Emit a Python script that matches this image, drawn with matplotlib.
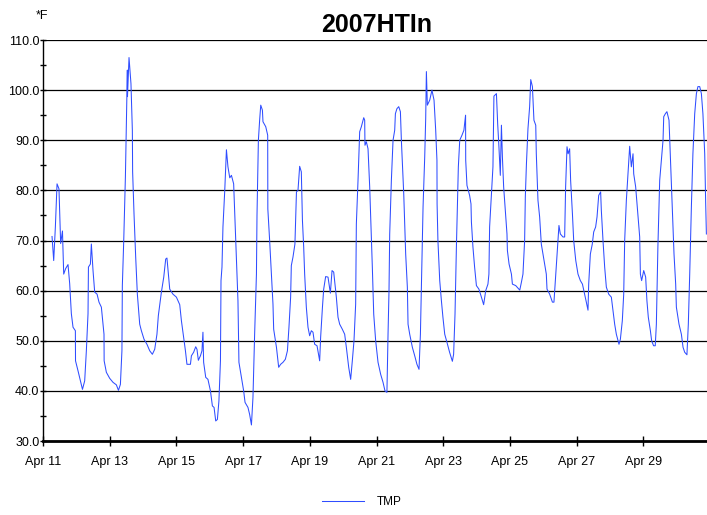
import matplotlib
matplotlib.use("Agg")
import matplotlib.pyplot as plt
import matplotlib.dates as mdates
from matplotlib.ticker import MultipleLocator, FormatStrFormatter
import pandas as pd

plt.rcParams['font.family'] = ['Liberation Sans', 'DejaVu Sans']

# hours since Apr 11 2007 00:00
hours = [6.5, 7.7, 8.9, 10.1, 11.5, 12.7, 14.0, 14.9, 16.3, 18.0, 19.2, 20.4, 21.6, 23.3, 23.4,
         25.2, 26.9, 28.4, 30.0, 31.2, 32.4, 32.7, 34.1, 34.8, 36.0, 37.2, 38.9, 40.3, 42.0, 43.9,
         44.0, 45.6, 48.0, 50.4, 52.8, 54.3, 55.7, 56.8, 57.1, 58.1, 59.3, 60.0, 60.7, 60.8, 61.9,
         63.3, 64.3, 64.5, 65.5, 66.7, 67.9, 69.6, 70.8, 72.7, 74.8, 76.8, 78.7, 80.4, 82.0, 83.0,
         85.2, 86.9, 88.3, 89.2, 90.2, 91.2, 93.5, 96.0, 98.4, 99.6, 101.2, 102.5, 103.6, 106.1, 106.8,
         108.4, 109.9, 110.8, 111.8, 113.3, 114.4, 115.1, 115.6, 117.1, 118.7, 120.5, 121.9, 123.1, 124.3, 125.5,
         126.6, 127.7, 128.1, 128.8, 129.5, 130.8, 132.0, 133.1, 134.4, 135.6, 137.2, 138.0, 139.2, 140.3, 141.0,
         142.8, 144.4, 145.4, 147.5, 148.7, 150.0, 151.1, 152.3, 153.6, 154.0, 155.0, 155.9, 156.7, 157.9, 158.3,
         160.3, 161.7, 161.8, 163.1, 164.4, 165.5, 166.0, 168.0, 169.6, 171.0, 172.7, 174.4, 175.9, 177.0, 178.2,
         178.7, 179.9, 181.3, 182.4, 183.5, 184.7, 185.9, 186.7, 187.6, 188.3, 189.5, 190.7, 191.9, 193.1, 194.3,
         195.5, 197.2, 199.1, 199.8, 201.1, 202.0, 203.4, 205.1, 206.8, 208.0, 209.2, 211.1, 212.3, 213.5, 215.4,
         217.1, 218.3, 220.0, 221.4, 222.6, 223.8, 225.0, 225.5, 226.7, 227.9, 229.1, 230.8, 231.5, 231.7, 232.7,
         233.9, 235.1, 236.3, 237.0, 238.0, 239.4, 241.1, 243.0, 244.7, 246.1, 247.5, 248.3, 249.0, 249.5, 250.7,
         251.9, 253.1, 253.6, 254.7, 256.0, 257.2, 257.9, 259.6, 261.0, 262.2, 262.7, 263.9, 265.8, 267.5, 269.1,
         270.6, 271.6, 272.5, 273.5, 274.7, 275.4, 275.9, 276.6, 278.3, 279.9, 281.4, 282.6, 283.5, 283.6, 284.2,
         285.5, 286.7, 287.8, 289.1, 290.7, 292.6, 294.6, 295.5, 296.5, 297.5, 298.2, 298.9, 299.9, 301.5, 302.9,
         304.1, 304.2, 305.1, 307.0, 308.0, 308.3, 309.4, 310.6, 311.9, 313.7, 315.5, 317.1, 318.6, 320.2, 320.9,
         321.4, 322.7, 323.8, 324.5, 326.3, 327.2, 328.1, 329.1, 329.9, 330.6, 331.5, 332.9, 333.9, 334.2, 335.4,
         337.1, 337.8, 340.2, 341.8, 343.1, 344.3, 345.4, 346.6, 347.1, 347.9, 349.0, 350.2, 351.0, 352.2, 353.3,
         354.6, 355.0, 356.2, 357.4, 358.6, 359.8, 361.0, 362.2, 362.7, 364.6, 365.8, 366.6, 367.7, 368.7, 369.9,
         371.3, 372.3, 374.2, 375.4, 376.1, 377.1, 377.9, 379.0, 379.7, 381.0, 381.9, 383.4, 385.0, 386.7, 388.2,
         389.8, 391.0, 392.2, 392.7, 393.9, 395.3, 396.3, 397.7, 398.7, 399.9, 401.3, 401.8, 403.0, 404.2, 405.4,
         407.1, 409.0, 410.2, 411.4, 412.6, 413.8, 414.5, 415.5, 416.9, 417.9, 418.6, 419.8, 421.0, 422.2, 423.4,
         424.6, 425.1, 426.5, 428.2, 429.4, 429.9, 430.8, 432.3, 433.7, 434.6, 435.6, 437.1, 438.0, 439.4, 440.6,
         441.4, 442.5, 443.8, 445.0, 446.2, 446.7, 447.9, 449.0, 450.5, 451.5, 452.9, 454.1, 455.3, 455.8, 457.7,
         459.4, 460.6, 461.8, 463.4, 464.4, 465.4, 466.6, 467.7, 469.0, 470.2, 471.3, 472.6, 473.8, 474.9, 476.2,
         476.9, 477.4]

tmp = [70.8, 66.0, 72.7, 81.3, 80.3, 69.4, 71.9, 63.3, 64.4, 65.2, 61.4, 55.4, 52.7, 52.0, 46.0,
       44.0, 42.0, 40.3, 42.0, 48.0, 55.4, 64.7, 65.3, 69.3, 64.0, 59.7, 59.3, 57.7, 56.7, 51.3,
       46.0, 43.7, 42.5, 41.7, 41.2, 40.1, 41.3, 48.0, 61.0, 70.0, 82.7, 93.3, 104.0, 98.7, 106.5,
       101.3, 92.0, 83.7, 75.3, 66.7, 59.3, 53.3, 52.0, 50.3, 49.3, 48.0, 47.3, 48.3, 51.3, 55.0,
       59.7, 62.7, 66.3, 66.5, 63.3, 60.3, 59.3, 58.7, 57.2, 54.0, 50.7, 48.0, 45.3, 45.3, 47.0,
       47.7, 48.8, 48.3, 46.1, 47.0, 48.0, 51.7, 45.7, 42.7, 42.3, 40.0, 37.0, 36.7, 34.0, 34.3,
       38.0, 46.0, 62.0, 64.7, 72.7, 80.0, 88.1, 84.7, 82.5, 83.0, 81.3, 75.3, 66.7, 58.0, 45.7,
       42.7, 40.0, 37.7, 36.7, 35.3, 33.2, 38.7, 51.3, 63.3, 75.0, 90.0, 94.0, 97.0, 96.0, 93.7,
       92.7, 91.0, 76.3, 70.0, 63.3, 57.3, 52.3, 48.7, 44.7, 45.3, 45.7, 46.3, 48.0, 52.7, 58.7,
       65.0, 66.7, 69.3, 79.7, 80.0, 84.8, 83.7, 74.0, 68.7, 63.3, 56.7, 52.7, 51.0, 52.0, 51.7,
       49.3, 49.0, 46.0, 50.7, 56.7, 60.3, 62.8, 62.7, 59.5, 64.0, 63.7, 58.7, 54.7, 53.3, 52.3,
       51.3, 48.7, 44.7, 42.3, 46.0, 50.0, 57.3, 73.3, 82.0, 91.7, 92.7, 94.5, 94.0, 89.0, 89.7,
       88.3, 80.7, 70.7, 64.7, 55.3, 50.0, 45.7, 43.3, 41.7, 40.0, 39.7, 51.3, 60.0, 71.3, 82.0,
       90.0, 92.0, 95.3, 96.3, 96.7, 95.7, 90.0, 79.3, 67.3, 60.7, 53.3, 51.3, 48.7, 47.0, 45.3,
       44.3, 51.3, 63.3, 76.7, 86.7, 94.3, 103.7, 97.0, 98.0, 100.0, 98.0, 92.0, 86.0, 77.3, 70.0,
       62.0, 58.0, 54.7, 51.3, 49.7, 47.7, 45.9, 47.3, 55.3, 68.7, 76.7, 84.7, 90.0, 91.0, 92.0,
       95.0, 86.0, 81.0, 79.0, 77.3, 73.7, 68.7, 64.7, 61.0, 60.3, 58.7, 57.2, 60.0, 61.3, 63.3,
       72.7, 79.3, 84.7, 98.8, 99.3, 93.3, 88.7, 83.0, 93.0, 86.7, 80.7, 75.3, 71.3, 68.0, 65.3,
       63.3, 61.3, 61.0, 60.5, 60.1, 61.7, 63.3, 70.0, 78.7, 85.3, 92.3, 96.7, 102.1, 100.7, 94.0,
       93.0, 87.3, 78.0, 74.7, 69.3, 67.3, 65.3, 63.3, 60.3, 59.3, 58.3, 57.7, 57.7, 62.0, 67.3,
       73.0, 71.3, 70.7, 70.7, 80.7, 88.7, 87.3, 88.3, 82.0, 75.3, 70.0, 66.0, 63.3, 62.0, 61.3,
       59.3, 57.7, 56.1, 61.3, 67.3, 69.3, 71.7, 72.7, 74.7, 79.0, 79.7, 76.0, 70.0, 64.7, 60.7,
       59.3, 58.7, 56.0, 53.3, 51.3, 50.0, 49.3, 50.3, 54.0, 59.3, 70.0, 78.0, 83.3, 88.8, 84.7,
       87.3, 83.3, 80.7, 74.7, 70.7, 63.3, 62.0, 64.0, 62.7, 58.0, 54.7, 52.0, 50.0, 49.0, 49.0,
       53.3, 68.7, 82.0, 86.0, 90.0, 94.7, 95.3, 95.7, 94.0, 86.7, 76.7, 67.3, 61.3, 56.7, 53.3,
       51.3, 48.7, 47.7, 47.2, 53.3, 63.3, 76.7, 87.3, 95.3, 99.3, 100.7, 100.7, 99.3, 95.3, 87.3,
       77.3, 71.3]

start = pd.Timestamp("2007-04-11 00:00")
times = start + pd.to_timedelta(hours, unit="h")

fig = plt.figure(figsize=(7.07, 5.15), dpi=100)
ax = fig.add_axes([43 / 707, 74 / 515, 667 / 707, 401 / 515])

ax.plot(times, tmp, color="#2f4dff", lw=0.75, label="TMP")

ax.set_xlim(start, start + pd.Timedelta(days=20))
ax.set_ylim(30, 110)

ax.yaxis.set_major_locator(MultipleLocator(10))
ax.yaxis.set_minor_locator(MultipleLocator(5))
ax.yaxis.set_major_formatter(FormatStrFormatter("%.1f"))
ax.xaxis.set_major_locator(mdates.DayLocator(bymonthday=[11, 13, 15, 17, 19, 21, 23, 25, 27, 29]))
ax.xaxis.set_major_formatter(mdates.DateFormatter("%b %d"))
ax.grid(axis="y", color="black", lw=0.9)

ax.tick_params(axis="y", which="both", direction="inout", length=5, width=1, pad=0, labelsize=9)
ax.tick_params(axis="x", direction="inout", length=7, width=1, pad=7, labelsize=9)
for lbl in ax.get_xticklabels():
    lbl.set_text(lbl.get_text().replace(" 0", " "))

def fmt_day(x, pos=None):
    d = mdates.num2date(x)
    return "Apr %d" % d.day
ax.xaxis.set_major_formatter(plt.FuncFormatter(fmt_day))

ax.spines["top"].set_visible(False)
ax.spines["right"].set_visible(False)
ax.spines["bottom"].set_linewidth(2)
ax.spines["left"].set_linewidth(1)

ax.set_title("2007HTIn", fontsize=18, fontweight="bold", pad=6)
fig.text(36 / 707, 1 - 16 / 515, "*F", fontsize=9, va="center")

ax.legend(loc="center", bbox_to_anchor=(362 / 707, 1 - 502 / 515), bbox_transform=fig.transFigure,
          frameon=False, fontsize=8.5, handlelength=3.5, handletextpad=1.1)

fig.savefig("out.png", dpi=100)
